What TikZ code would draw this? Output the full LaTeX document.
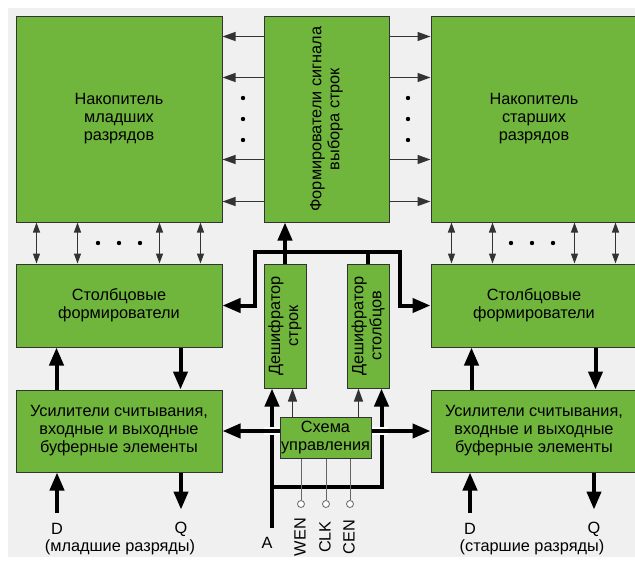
\documentclass[tikz,border=0pt]{standalone}
\usepackage{fontspec}
\setmainfont{Liberation Sans}
\usetikzlibrary{positioning,arrows.meta}
\definecolor{tGreen}{HTML}{70B63C}
\definecolor{tBack}{HTML}{F0F0F0}
\tikzstyle{tText} = [align=center, inner sep=0pt, font=\fontsize{16.3}{18}\selectfont]
\tikzstyle{tBlock} = [tText, rectangle, draw=black!80, fill=tGreen, line width=1pt]
\tikzstyle{tThin} = [draw=black!80, line width=1.2pt, -{Triangle[length=13pt,width=9pt]}]
\tikzstyle{tBoth} = [draw=black!80, line width=1.1pt, {Triangle[length=10pt,width=7pt]}-{Triangle[length=10pt,width=7pt]}]
\tikzstyle{tThick} = [line width=4pt, -{Triangle[length=18pt,width=14pt]}]
\tikzstyle{tBus} = [line width=4pt]
\tikzstyle{tSig} = [draw=black!60, line width=1pt]
\tikzstyle{tPin} = [circle, draw=black!60, fill=white, line width=0.8pt, minimum size=7pt, inner sep=0pt]
\begin{document}
\begin{tikzpicture}[x=1pt,y=-1pt]
    \useasboundingbox (0,0) rectangle (635,563);
    \fill[tBack] (8,8) rectangle (635,557);

    % storage and row drivers
    \node[tBlock, minimum width=206pt, minimum height=206pt] (LowStore) at (119,119) {Накопитель\\младших\\разрядов};
    \node[tBlock, minimum width=125pt, minimum height=206pt] (RowDrv) [right=41pt of LowStore] {};
    \node[tText, rotate=90] (RowDrvText) at (RowDrv) {Формирователи сигнала\\выбора строк};
    \node[tBlock, minimum width=206pt, minimum height=206pt] (HighStore) [right=41pt of RowDrv] {Накопитель\\старших\\разрядов};

    % column drivers and amplifiers
    \node[tBlock, minimum width=206pt, minimum height=83pt] (LowCol) [below=41pt of LowStore] {Столбцовые\\формирователи};
    \node[tBlock, minimum width=206pt, minimum height=83pt] (HighCol) [below=41pt of HighStore] {Столбцовые\\формирователи};
    \node[tBlock, minimum width=206pt, minimum height=82pt] (LowAmp) [below=42pt of LowCol] {Усилители считывания,\\входные и выходные\\буферные элементы};
    \node[tBlock, minimum width=206pt, minimum height=82pt] (HighAmp) [below=42pt of HighCol] {Усилители считывания,\\входные и выходные\\буферные элементы};

    % decoders and control
    \node[tBlock, minimum width=42pt, minimum height=124pt] (RowDec) [below right=41pt and 0pt of RowDrv.south west] {};
    \node[tText, rotate=90] (RowDecText) at (RowDec) {Дешифратор\\строк};
    \node[tBlock, minimum width=42pt, minimum height=124pt] (ColDec) [below left=41pt and 0pt of RowDrv.south east] {};
    \node[tText, rotate=90] (ColDecText) at (ColDec) {Дешифратор\\столбцов};
    \node[tBlock, minimum width=91pt, minimum height=41pt] (Ctrl) at (325.5,437.5) {Схема\\управления};

    % row select lines
    \foreach \dy in {21,62,144,186} {
        \draw[tThin] ([yshift=-\dy pt]RowDrv.north west) -- ([yshift=-\dy pt]LowStore.north east);
        \draw[tThin] ([yshift=-\dy pt]RowDrv.north east) -- ([yshift=-\dy pt]HighStore.north west);
    }
    \foreach \y in {98,119,140} {
        \fill (243,\y) circle (2.2pt);
        \fill (408,\y) circle (2.2pt);
    }

    % bit lines
    \foreach \blk in {Low,High} {
        \foreach \dx in {21,62,144,185}
            \draw[tBoth] ([xshift=\dx pt]\blk Store.south west) -- ([xshift=\dx pt]\blk Col.north west);
        \draw[tThick] ([xshift=41pt]\blk Amp.north west) -- ([xshift=41pt]\blk Col.south west);
        \draw[tThick] ([xshift=165pt]\blk Col.south west) -- ([xshift=165pt]\blk Amp.north west);
    }
    \foreach \x in {98,119,140,511,532,553}
        \fill (\x,243) circle (2.2pt);

    % data in/out
    \node[tText] (LowD) at (57,529) {D};
    \node[tText] (LowQ) at (181,529) {Q};
    \node[tText] (LowNote) at (120,547) {(младшие разряды)};
    \node[tText] (HighD) at (470,529) {D};
    \node[tText] (HighQ) at (594,529) {Q};
    \node[tText] (HighNote) at (532,547) {(старшие разряды)};
    \draw[tThick] ([yshift=10pt]LowD.north) -- (LowD.north |- LowAmp.south);
    \draw[tThick] (LowQ.north |- LowAmp.south) -- ([yshift=12pt]LowQ.north);
    \draw[tThick] ([yshift=10pt]HighD.north) -- (HighD.north |- HighAmp.south);
    \draw[tThick] (HighQ.north |- HighAmp.south) -- ([yshift=12pt]HighQ.north);

    % column decoder outputs
    \coordinate (BusL) at (255,252);
    \coordinate (BusR) at (400,252);
    \draw[tBus] (ColDec.north) -- (ColDec.north |- BusL);
    \draw[tThick, {Triangle[length=18pt,width=14pt]}-{Triangle[length=18pt,width=14pt]}] (LowCol.east) -| (BusL) -- (BusR) |- (HighCol.west);
    \draw[tThick] (RowDec.north) -- (RowDec.north |- RowDrv.south);

    % address bus
    \node[tText] (ALab) at (267,543) {A};
    \coordinate (AIn) at (272,528);
    \coordinate (ATap) at (270,487);
    \coordinate (ColIn) at ([xshift=-8pt]ColDec.south east);
    \draw[tThick] (AIn) -- (AIn |- RowDec.south);
    \draw[tThick] (ATap) -| (ColIn);

    % control outputs
    \coordinate (RowThin) at ([xshift=13pt]Ctrl.north west);
    \coordinate (ColThin) at ([xshift=-13pt]Ctrl.north east);
    \draw[tThin] (RowThin) -- (RowThin |- RowDec.south);
    \draw[tThin] (ColThin) -- (ColThin |- ColDec.south);
    \draw[white, line width=8pt] (Ctrl.west |- LowAmp.east) -- ++(-16,0);
    \draw[white, line width=8pt] (Ctrl.east |- HighAmp.west) -- ++(16,0);
    \draw[tThick] (Ctrl.west |- LowAmp.east) -- (LowAmp.east);
    \draw[tThick] (Ctrl.east |- HighAmp.west) -- (HighAmp.west);

    % control inputs
    \foreach \name/\x in {WEN/301,CLK/326,CEN/350} {
        \node[tPin] (\name Pin) at (\x,504) {};
        \draw[tSig] (\name Pin.north) -- (\name Pin.north |- Ctrl.south);
        \node[tText, rotate=90] (\name Lab) at (\x-1,537) {\name};
    }
\end{tikzpicture}
\end{document}
